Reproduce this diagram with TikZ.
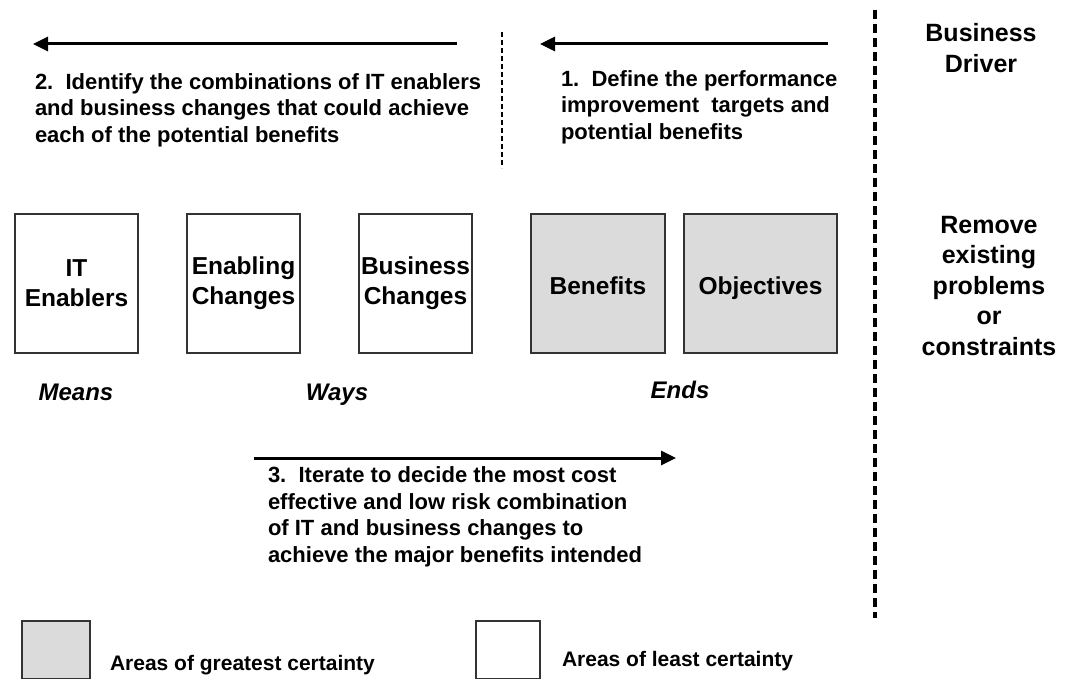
\documentclass[tikz,border=0pt]{standalone}
\usepackage{fontspec}
\setmainfont{Liberation Sans}
\usetikzlibrary{arrows.meta,positioning}

\begin{document}
\begin{tikzpicture}[
    x=1pt, y=-1pt,
    every node/.style={inner sep=0pt, outer sep=0pt},
    box/.style={draw=black!80, line width=1.6pt, align=center, minimum height=139pt, font=\fontsize{24.5}{30}\selectfont\bfseries},
    certain/.style={box, fill=black!14},
    oneline/.style={text height=26pt, text depth=5pt},
    note/.style={align=left, anchor=west, font=\fontsize{22}{26.5}\selectfont\bfseries},
    side/.style={align=center, font=\fontsize{25}{30.5}\selectfont\bfseries},
    tag/.style={anchor=base, font=\fontsize{24}{28}\selectfont\bfseries\itshape},
    key/.style={anchor=west, font=\fontsize{21}{25}\selectfont\bfseries},
    flow/.style={-{Triangle[length=15pt, width=14pt]}, line width=3pt},
    split/.style={line width=1.8pt, dash pattern=on 5pt off 3pt},
    border/.style={line width=3.8pt, dash pattern=on 9pt off 5pt}
]
\useasboundingbox (0,0) rectangle (1068,679);

% means, ways and ends
\node[box, minimum width=123pt, anchor=north west] (it) at (15,214) {IT\\Enablers};
\node[box, minimum width=113pt, right=49pt of it] (enabling) {Enabling\\Changes};
\node[box, minimum width=113pt, right=59pt of enabling] (business) {Business\\Changes};
\node[certain, oneline, minimum width=134pt, right=59pt of business] (benefits) {Benefits};
\node[certain, oneline, minimum width=153pt, right=19pt of benefits] (objectives) {Objectives};

\node[tag] (means) at (76,400) {Means};
\node[tag] (ways) at (337,400) {Ways};
\node[tag] (ends) at (680,398) {Ends};

% steps
\node[note] (step2) at (35,110) {2.\ \ Identify the combinations of IT enablers\\and business changes that could achieve\\each of the potential benefits};
\node[note] (step1) at (561,107) {1.\ \ Define the performance\\improvement\ \ targets and\\potential benefits};
\node[note] (step3) at (268,517) {3.\ \ Iterate to decide the most cost\\effective and low risk combination\\of IT and business changes to\\achieve the major benefits intended};

\coordinate (s2from) at (457,44);
\coordinate (s2to) at (33,44);
\coordinate (s1from) at (828,44);
\coordinate (s1to) at (540,44);
\coordinate (s3from) at (254,458);
\coordinate (s3to) at (676,458);
\draw[flow] (s2from) -- (s2to);
\draw[flow] (s1from) -- (s1to);
\draw[flow] (s3from) -- (s3to);

\coordinate (midtop) at (502,32);
\coordinate (midbot) at (502,168);
\draw[split] (midtop) -- (midbot);

% business driver column
\coordinate (drvtop) at (875,10);
\coordinate (drvbot) at (875,618);
\draw[border] (drvtop) -- (drvbot);
\node[side] (driver) at (981,48) {Business\\Driver};
\node[side] (remove) at (989,286) {Remove\\existing\\problems\\or\\constraints};

% key
\node[certain, minimum width=68pt, minimum height=58pt, anchor=north west] (keygrey) at (22,621) {};
\node[box, minimum width=64pt, minimum height=58pt, anchor=north west] (keywhite) at (476,621) {};
\node[key] (greatest) at (110,665) {Areas of greatest certainty};
\node[key] (least) at (562,661) {Areas of least certainty};
\end{tikzpicture}
\end{document}
